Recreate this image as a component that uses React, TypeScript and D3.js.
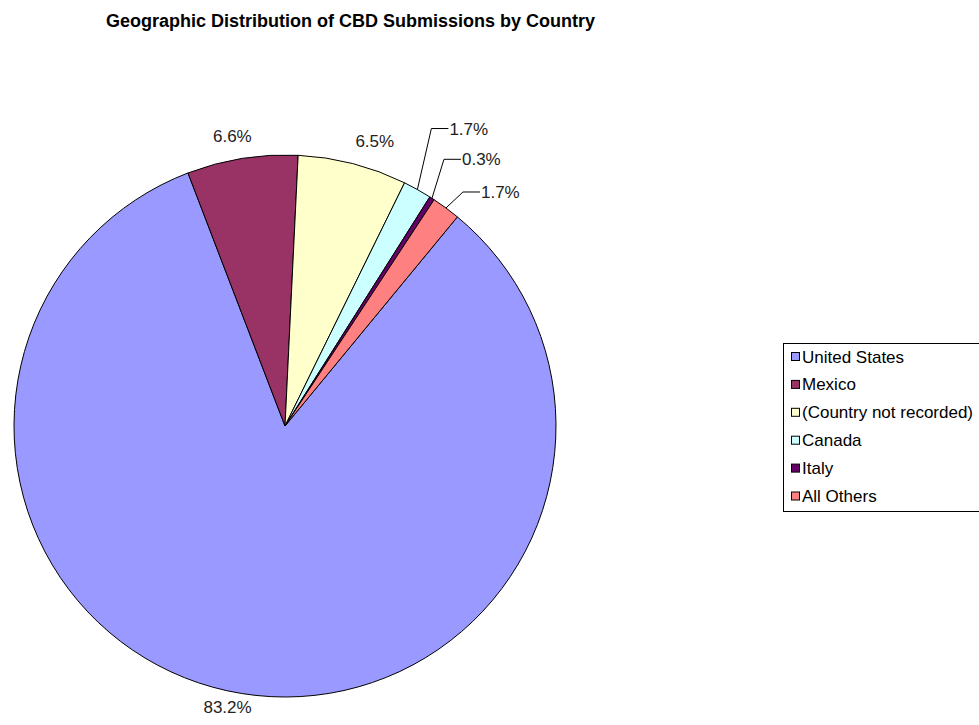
import React from "react";
import * as d3 from "d3";

const categories = ["United States", "Mexico", "(Country not recorded)", "Canada", "Italy", "All Others"];
const values = [83.2, 6.6, 6.5, 1.7, 0.3, 1.7];
const valueLabels = ["83.2%", "6.6%", "6.5%", "1.7%", "0.3%", "1.7%"];
const colors = ["#9999FF", "#993366", "#FFFFCC", "#CCFFFF", "#660066", "#FF8080"];

// layout
const W = 979, H = 725;
const cx = 285, cy = 426, R = 271;
const startDeg = 39.5;
const FONT = "Arial, 'Liberation Sans', Helvetica, sans-serif";
// label layout: leader=true draws an elbow leader; nudges relative to radial placement
const labelLayout = [
  { leader: false, dx: -10, dy: -10 },
  { leader: false, dx: -6, dy: 1 },
  { leader: false, dx: 16, dy: 1 },
  { leader: true, dx: 14, dy: -61 },
  { leader: true, dx: 12, dy: -39 },
  { leader: true, dx: 17, dy: -16 },
];

export default function App() {
  const pie = d3
    .pie<number>()
    .sort(null)
    .value((d) => d)
    .startAngle((startDeg * Math.PI) / 180)
    .endAngle(((startDeg + 360) * Math.PI) / 180);
  const arcs = pie(values);
  const arcGen = d3.arc<d3.PieArcDatum<number>>().innerRadius(0).outerRadius(R);

  const legendX = 783, legendY = 343, legendW = 210, legendH = 168;
  const rowY = d3.scalePoint<string>().domain(categories).range([356.5, 496]);

  return (
    <svg
      width={W}
      height={H}
      style={{ position: "absolute", left: 0, top: 0, background: "#fff" }}
      fontFamily={FONT}
    >
      <rect x={0} y={0} width={W} height={H} fill="#fff" />
      <text x={350.5} y={27} textAnchor="middle" fontWeight="bold" fontSize={18} fill="#000">
        Geographic Distribution of CBD Submissions by Country
      </text>
      <g transform={`translate(${cx},${cy})`}>
        {arcs.map((a, i) => (
          <path key={i} d={arcGen(a) || ""} fill={colors[i]} stroke="#000" strokeWidth={1} strokeLinejoin="round" />
        ))}
      </g>
      {arcs.map((a, i) => {
        const mid = (a.startAngle + a.endAngle) / 2;
        const L = labelLayout[i];
        if (!L.leader) {
          const r = R + 24;
          const x = cx + r * Math.sin(mid) + L.dx;
          const y = cy - r * Math.cos(mid) + L.dy;
          return (
            <text key={i} x={x} y={y + 6} textAnchor="middle" fontSize={17} fill="#222">
              {valueLabels[i]}
            </text>
          );
        }
        const ex = cx + R * Math.sin(mid);
        const ey = cy - R * Math.cos(mid);
        const bx = ex + L.dx;
        const by = ey + L.dy;
        const hx = bx + 17;
        return (
          <g key={i}>
            <polyline points={`${ex},${ey} ${bx},${by} ${hx},${by}`} fill="none" stroke="#000" strokeWidth={1} />
            <text x={hx + 1} y={by + 6} fontSize={17} fill="#222">
              {valueLabels[i]}
            </text>
          </g>
        );
      })}
      <rect x={legendX + 0.5} y={legendY + 0.5} width={legendW} height={legendH} fill="#fff" stroke="#000" strokeWidth={1} />
      {categories.map((c, i) => {
        const y = rowY(c) as number;
        return (
          <g key={c}>
            <rect x={791.5} y={y - 4} width={8} height={8} fill={colors[i]} stroke="#000" strokeWidth={1} />
            <text x={802} y={y + 6} fontSize={17} fill="#000">
              {c}
            </text>
          </g>
        );
      })}
    </svg>
  );
}
